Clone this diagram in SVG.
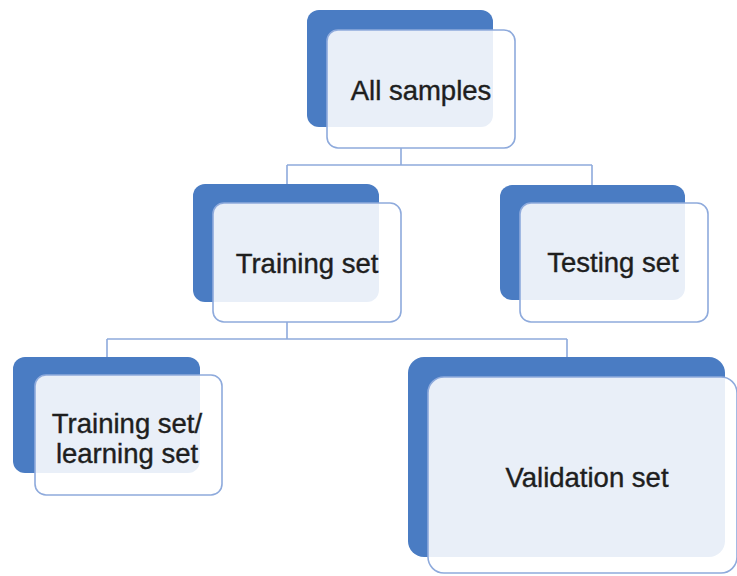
<svg xmlns="http://www.w3.org/2000/svg" width="737" height="576" viewBox="0 0 737 576">
  <style>
    .back { fill: #4a7cc3; }
    .front { fill: #ffffff; fill-opacity: 0.88; stroke: #8eaadc; stroke-width: 1.6; }
    .label { font-family: "Liberation Sans", Arial, sans-serif; font-size: 27.5px; fill: #1e1e1e; stroke: #1e1e1e; stroke-width: 0.4; text-anchor: middle; }
    .link { fill: none; stroke: #8eaadc; stroke-width: 1.6; }
  </style>
  <rect width="737" height="576" fill="#ffffff"/>

  <!-- tree connectors -->
  <g id="connectors">
    <path class="link" d="M401,148 V165 M287,165 H592 M287,165 V184 M592,165 V186"/>
    <path class="link" d="M287,322 V339 M107,339 H567 M107,339 V358 M567,339 V358"/>
  </g>

  <g id="all-samples">
    <rect class="back" x="307" y="10" width="186" height="117" rx="12"/>
    <rect class="front" x="327" y="30" width="188" height="118" rx="11"/>
    <text class="label" x="421" y="100">All samples</text>
  </g>

  <g id="training-set">
    <rect class="back" x="193" y="184" width="186" height="118" rx="12"/>
    <rect class="front" x="213" y="203" width="188" height="119" rx="11"/>
    <text class="label" x="307" y="273">Training set</text>
  </g>

  <g id="testing-set">
    <rect class="back" x="500" y="185" width="185" height="115" rx="12"/>
    <rect class="front" x="520" y="203" width="188" height="119" rx="11"/>
    <text class="label" x="613" y="272">Testing set</text>
  </g>

  <g id="learning-set">
    <rect class="back" x="13" y="357" width="187" height="116" rx="12"/>
    <rect class="front" x="35" y="375" width="187" height="120" rx="11"/>
    <text class="label" x="127" y="433">Training set/</text>
    <text class="label" x="127" y="463">learning set</text>
  </g>

  <g id="validation-set">
    <rect class="back" x="408" y="357" width="317" height="200" rx="16"/>
    <rect class="front" x="428" y="377" width="309" height="196" rx="16"/>
    <text class="label" x="587" y="487">Validation set</text>
  </g>
</svg>
